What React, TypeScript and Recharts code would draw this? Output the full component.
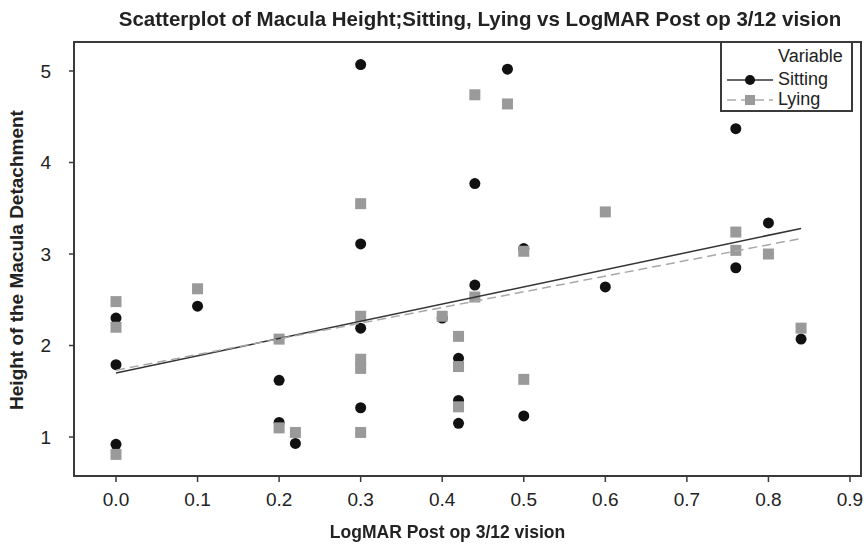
import React from 'react';
import {
  ScatterChart,
  Scatter,
  XAxis,
  YAxis,
  ReferenceArea,
} from 'recharts';

interface Pt {
  x: number;
  y: number;
}

// Sitting (black circles)
const sitting: Pt[] = [
  { x: 0, y: 2.3 }, { x: 0, y: 1.79 }, { x: 0, y: 0.92 },
  { x: 0.1, y: 2.43 },
  { x: 0.2, y: 1.62 }, { x: 0.2, y: 1.16 }, { x: 0.22, y: 0.93 },
  { x: 0.3, y: 5.07 }, { x: 0.3, y: 3.11 }, { x: 0.3, y: 2.19 }, { x: 0.3, y: 1.32 },
  { x: 0.4, y: 2.3 },
  { x: 0.42, y: 1.86 }, { x: 0.42, y: 1.4 }, { x: 0.42, y: 1.15 },
  { x: 0.44, y: 3.77 }, { x: 0.44, y: 2.66 },
  { x: 0.48, y: 5.02 },
  { x: 0.5, y: 3.06 }, { x: 0.5, y: 1.23 },
  { x: 0.6, y: 2.64 },
  { x: 0.76, y: 4.37 }, { x: 0.76, y: 2.85 },
  { x: 0.8, y: 3.34 },
  { x: 0.84, y: 2.07 },
];

// Lying (grey squares)
const lying: Pt[] = [
  { x: 0, y: 2.48 }, { x: 0, y: 2.2 }, { x: 0, y: 0.81 },
  { x: 0.1, y: 2.62 },
  { x: 0.2, y: 2.07 }, { x: 0.2, y: 1.1 }, { x: 0.22, y: 1.05 },
  { x: 0.3, y: 3.55 }, { x: 0.3, y: 2.32 }, { x: 0.3, y: 1.85 }, { x: 0.3, y: 1.75 }, { x: 0.3, y: 1.05 },
  { x: 0.4, y: 2.32 },
  { x: 0.42, y: 2.1 }, { x: 0.42, y: 1.77 }, { x: 0.42, y: 1.33 },
  { x: 0.44, y: 4.74 }, { x: 0.44, y: 2.53 },
  { x: 0.48, y: 4.64 },
  { x: 0.5, y: 3.03 }, { x: 0.5, y: 1.63 },
  { x: 0.6, y: 3.46 },
  { x: 0.76, y: 3.24 }, { x: 0.76, y: 3.04 },
  { x: 0.8, y: 3.0 },
  { x: 0.84, y: 2.19 },
];

// fitted regression lines (end points)
const sittingFit: Pt[] = [{ x: 0, y: 1.7 }, { x: 0.84, y: 3.28 }];
const lyingFit: Pt[] = [{ x: 0, y: 1.73 }, { x: 0.84, y: 3.17 }];

const xTicks = [0, 0.1, 0.2, 0.3, 0.4, 0.5, 0.6, 0.7, 0.8, 0.9];
const yTicks = [1, 2, 3, 4, 5];

const X_DOMAIN: [number, number] = [-0.0515, 0.9135];
const Y_DOMAIN: [number, number] = [0.574, 5.317];

const FONT = '"Liberation Sans", Arial, Helvetica, sans-serif';
const FRAME = '#3a3a3a';
const GREY = '#9a9a9a';

const Circle = (props: any) => {
  const { cx, cy } = props;
  if (cx == null || cy == null) return <g />;
  return <circle cx={cx} cy={cy} r={5.5} fill="#111" />;
};

const Square = (props: any) => {
  const { cx, cy } = props;
  if (cx == null || cy == null) return <g />;
  return <rect x={cx - 5.5} y={cy - 5.5} width={11} height={11} fill={GREY} />;
};

const NoShape = () => <g />;

const tickStyle = { fill: '#222', fontSize: 19, fontFamily: FONT };

const App: React.FC = () => {
  return (
    <div style={{ position: 'fixed', left: 0, top: 0, width: 866, height: 545, background: '#fff', fontFamily: FONT, color: '#222' }}>
      <ScatterChart width={866} height={545} margin={{ top: 42, right: 5, bottom: 0, left: 0 }}>
        <XAxis
          type="number"
          dataKey="x"
          domain={X_DOMAIN}
          ticks={xTicks}
          allowDataOverflow
          height={69}
          tickFormatter={(v: number) => v.toFixed(1)}
          tick={tickStyle}
          tickSize={6}
          tickMargin={11}
          axisLine={{ stroke: FRAME, strokeWidth: 2 }}
          tickLine={{ stroke: FRAME, strokeWidth: 1.5 }}
        />
        <YAxis
          type="number"
          dataKey="y"
          domain={Y_DOMAIN}
          ticks={yTicks}
          allowDataOverflow
          width={74}
          tick={tickStyle}
          tickSize={5}
          tickMargin={18}
          axisLine={{ stroke: FRAME, strokeWidth: 2 }}
          tickLine={{ stroke: FRAME, strokeWidth: 1.5 }}
        />
        <ReferenceArea
          x1={X_DOMAIN[0]}
          x2={X_DOMAIN[1]}
          y1={Y_DOMAIN[0]}
          y2={Y_DOMAIN[1]}
          fill="none"
          stroke={FRAME}
          strokeWidth={2}
          fillOpacity={0}
        />
        <Scatter name="Sitting" data={sitting} shape={Circle} isAnimationActive={false} />
        <Scatter name="Lying" data={lying} shape={Square} isAnimationActive={false} />
        <Scatter
          name="Sitting fit"
          data={sittingFit}
          shape={NoShape}
          line={{ stroke: '#333', strokeWidth: 1.5 }}
          isAnimationActive={false}
        />
        <Scatter
          name="Lying fit"
          data={lyingFit}
          shape={NoShape}
          line={{ stroke: '#a8a8a8', strokeWidth: 1.5, strokeDasharray: '9 5' }}
          isAnimationActive={false}
        />
      </ScatterChart>

      <div
        style={{
          position: 'absolute',
          left: 0,
          top: 7,
          width: 960,
          textAlign: 'center',
          fontWeight: 'bold',
          fontSize: 20.5,
          whiteSpace: 'nowrap',
        }}
      >
        Scatterplot of Macula Height;Sitting, Lying vs LogMAR Post op 3/12 vision
      </div>

      <div
        style={{
          position: 'absolute',
          left: 0,
          top: 522,
          width: 895,
          textAlign: 'center',
          fontWeight: 'bold',
          fontSize: 17.5,
          whiteSpace: 'nowrap',
        }}
      >
        LogMAR Post op 3/12 vision
      </div>

      <div
        style={{
          position: 'absolute',
          left: 17,
          top: 260,
          transform: 'translate(-50%, -50%) rotate(-90deg)',
          fontWeight: 'bold',
          fontSize: 19,
          whiteSpace: 'nowrap',
        }}
      >
        Height of the Macula Detachment
      </div>

      <div
        style={{
          position: 'absolute',
          left: 720,
          top: 41,
          width: 133,
          height: 71,
          border: `2px solid ${FRAME}`,
          boxSizing: 'border-box',
          fontSize: 18,
        }}
      >
        <div style={{ position: 'absolute', left: 56, top: 3 }}>Variable</div>
        <svg style={{ position: 'absolute', left: 5, top: 27 }} width={48} height={40}>
          <line x1={0} y1={10} x2={46} y2={10} stroke="#333" strokeWidth={1.5} />
          <circle cx={23} cy={10} r={5} fill="#111" />
          <line x1={0} y1={30} x2={46} y2={30} stroke="#aaa" strokeWidth={1.5} strokeDasharray="9 5" />
          <rect x={18} y={25} width={10} height={10} fill={GREY} />
        </svg>
        <div style={{ position: 'absolute', left: 56, top: 26 }}>Sitting</div>
        <div style={{ position: 'absolute', left: 56, top: 46 }}>Lying</div>
      </div>
    </div>
  );
};

export default App;
